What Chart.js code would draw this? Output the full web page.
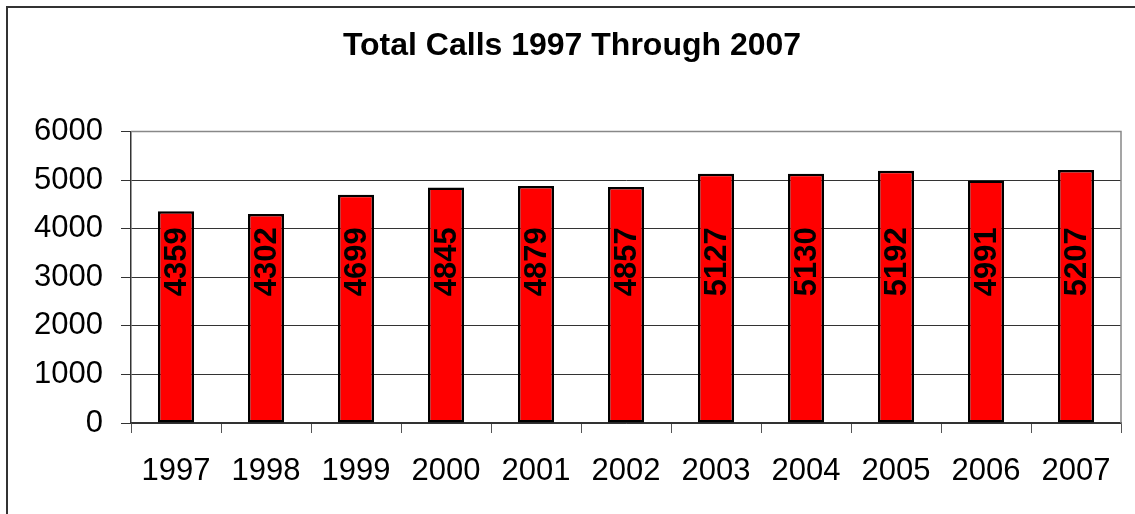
<!DOCTYPE html>
<html>
<head>
<meta charset="utf-8">
<script src="https://cdn.jsdelivr.net/npm/chart.js@4/dist/chart.umd.min.js"></script>
<style>
  html, body { margin: 0; padding: 0; background: #fff; overflow: hidden; }
  #wrap { position: relative; width: 1135px; height: 514px; }
  #frame { position: absolute; left: 6px; top: 6px; width: 1200px; height: 600px;
           border-left: 2px solid #333; border-top: 2px solid #333; }
  canvas { position: absolute; left: 0; top: 0; }
</style>
</head>
<body>
<div id="wrap">
  <div id="frame"></div>
  <canvas id="graph_1" width="1135" height="514"></canvas>
</div>
<script>
// データ
var years = ['1997', '1998', '1999', '2000', '2001', '2002', '2003', '2004', '2005', '2006', '2007'];
var totalCalls = [4359, 4302, 4699, 4845, 4879, 4857, 5127, 5130, 5192, 4991, 5207];
var yTicks = [0, 1000, 2000, 3000, 4000, 5000, 6000];

var FONT = '"Liberation Sans", Arial, sans-serif';

// 棒の中に縦書きの数値
var barLabels = {
    id: 'barLabels',
    afterDatasetsDraw: function (chart) {
        var ctx = chart.ctx;
        var area = chart.chartArea;
        var meta = chart.getDatasetMeta(0);
        var startY = area.bottom - (area.bottom - area.top) * 0.435;
        ctx.save();
        ctx.font = 'bold 31px ' + FONT;
        ctx.fillStyle = '#000';
        ctx.textAlign = 'left';
        ctx.textBaseline = 'middle';
        meta.data.forEach(function (bar, i) {
            ctx.save();
            ctx.translate(bar.x + 1, startY);
            ctx.rotate(-Math.PI / 2);
            ctx.fillText(String(chart.data.datasets[0].data[i]), 0, 0);
            ctx.restore();
        });
        ctx.restore();
    }
};

// プロットエリアの右枠
var plotBorder = {
    id: 'plotBorder',
    beforeDatasetsDraw: function (chart) {
        var ctx = chart.ctx;
        var a = chart.chartArea;
        ctx.save();
        ctx.strokeStyle = '#888';
        ctx.lineWidth = 1.5;
        ctx.beginPath();
        ctx.moveTo(a.left, a.top);
        ctx.lineTo(a.right, a.top);
        ctx.lineTo(a.right, a.bottom);
        ctx.stroke();
        ctx.restore();
    }
};

var ctx = document.getElementById('graph_1');

var myBarChart = new Chart(ctx, {
    type: 'bar',
    data: {
        labels: years,
        datasets: [{
            label: 'Total Calls',
            data: totalCalls,
            backgroundColor: '#FF0000',
            borderColor: '#000',
            borderWidth: 2.5,
            borderSkipped: false,
            barPercentage: 0.4,
            categoryPercentage: 1.0
        }]
    },
    options: {
        responsive: false,
        animation: false,
        layout: {
            padding: { left: 23, right: 14, top: 0, bottom: 0 }
        },
        plugins: {
            legend: { display: false },
            tooltip: { enabled: false },
            title: {
                display: true,
                text: 'Total Calls 1997 Through 2007',
                color: '#000',
                font: { family: FONT, size: 32, weight: 'bold' },
                padding: { top: 27, bottom: 66 }
            }
        },
        scales: {
            x: {
                grid: {
                    drawOnChartArea: false,
                    drawTicks: true,
                    tickLength: 10,
                    color: '#555',
                    offset: true
                },
                border: { color: '#333', width: 1.5 },
                ticks: {
                    color: '#000',
                    font: { family: FONT, size: 31 },
                    padding: 20,
                    maxRotation: 0,
                    autoSkip: false
                },
                afterFit: function (scale) { scale.height = 91; }
            },
            y: {
                min: 0,
                max: 6000,
                afterBuildTicks: function (scale) {
                    scale.ticks = yTicks.map(function (v) { return { value: v }; });
                },
                grid: {
                    color: function (c) { return c.tick && c.tick.value === 6000 ? '#888' : '#333'; },
                    tickColor: '#333',
                    tickLength: 10,
                    lineWidth: 1
                },
                border: { color: '#333', width: 1.5 },
                ticks: {
                    color: '#000',
                    font: { family: FONT, size: 31 },
                    padding: 18,
                    callback: function (v) { return String(v); }
                },
                afterFit: function (scale) { scale.width = 108; }
            }
        }
    },
    plugins: [plotBorder, barLabels]
});
</script>
</body>
</html>
